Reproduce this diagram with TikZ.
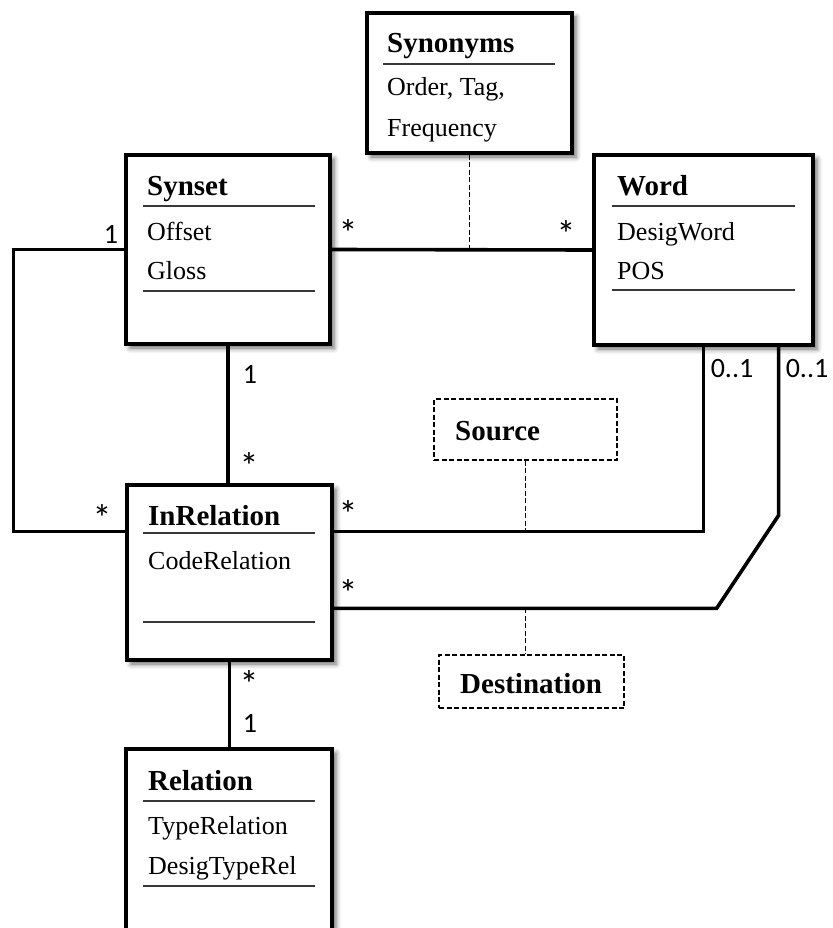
\documentclass[tikz,border=0pt]{standalone}
\usepackage{fontspec}
\setmainfont{Liberation Serif}
\newfontfamily\multfont{Carlito}
\usetikzlibrary{shadows.blur}

\begin{document}
\begin{tikzpicture}[x=1pt,y=-1pt,
  classbox/.style={draw, rectangle, line width=3.3pt, fill=white, inner sep=0pt,
    blur shadow={shadow xshift=4pt, shadow yshift=-4pt, shadow blur radius=5pt, shadow opacity=60}},
  rolebox/.style={draw, rectangle, line width=1.8pt, dash pattern=on 5pt off 2.5pt, fill=white, inner sep=0pt},
  classtitle/.style={anchor=base west, inner sep=0pt, font=\fontsize{29}{34}\selectfont\bfseries},
  attr/.style={anchor=base west, inner sep=0pt, font=\fontsize{26}{30}\selectfont},
  mult/.style={anchor=base, inner sep=0pt, font=\multfont\fontsize{28}{30}\selectfont},
  star/.style={anchor=base, inner sep=0pt, font=\multfont\fontsize{38}{40}\selectfont},
  sepline/.style={line width=1.4pt, draw=black!78},
  assoc/.style={line width=3.6pt},
  link/.style={line width=1.8pt, dash pattern=on 5pt off 2.5pt}
]
\useasboundingbox (0,0) rectangle (832,928);
\clip (0,0) rectangle (832,928);

% class boxes
\node[classbox, minimum width=205pt, minimum height=140pt] (synonyms) at (469.5,83) {};
\node[classbox, minimum width=204pt, minimum height=189pt] (synset) at (228,249.5) {};
\node[classbox, minimum width=219pt, minimum height=190pt] (word) at (703.5,250) {};
\node[classbox, minimum width=205pt, minimum height=175pt] (inrel) at (229.5,572.5) {};
\node[classbox, minimum width=206pt, minimum height=231pt] (relation) at (229,864.5) {};

% role boxes
\node[rolebox, minimum width=183pt, minimum height=61pt] (source) at (525.5,429.5) {};
\node[rolebox, minimum width=185pt, minimum height=53pt] (destination) at (531.5,681.5) {};

% Synonyms
\node[classtitle] (synonymsT) at (387,53) {Synonyms};
\draw[sepline] (383,64) -- (555,64);
\node[attr] (synonymsA) at (387,96) {Order, Tag,};
\node[attr] (synonymsB) at (387,137) {Frequency};

% Synset
\node[classtitle] (synsetT) at (147,195) {Synset};
\draw[sepline] (143,206) -- (315,206);
\node[attr] (synsetA) at (147,240) {Offset};
\node[attr] (synsetB) at (147,279) {Gloss};
\draw[sepline] (143,291) -- (315,291);

% Word
\node[classtitle] (wordT) at (617,195) {Word};
\draw[sepline] (612,206) -- (795,206);
\node[attr] (wordA) at (617,240) {DesigWord};
\node[attr] (wordB) at (617,279) {POS};
\draw[sepline] (612,290) -- (795,290);

% InRelation
\node[classtitle] (inrelT) at (148,525) {InRelation};
\draw[sepline] (143,533) -- (315,533);
\node[attr] (inrelA) at (148,569) {CodeRelation};
\draw[sepline] (143,622) -- (315,622);

% Relation
\node[classtitle] (relationT) at (148,790) {Relation};
\draw[sepline] (143,801) -- (315,801);
\node[attr] (relationA) at (148,834) {TypeRelation};
\node[attr] (relationB) at (148,874) {DesigTypeRel};
\draw[sepline] (143,886) -- (315,886);

% role names
\node[classtitle] (sourceT) at (455,440) {Source};
\node[classtitle] (destinationT) at (460,693) {Destination};

% associations
\draw[assoc] (synset.east) -- (word.west);
\draw[link] (synonyms.south) -- (synonyms.south |- synset.east);

\draw[assoc] (synset.west) -- ++(-111,0) |- ([yshift=-48pt]inrel.north west);
\draw[assoc] (synset.south) -- (synset.south |- inrel.north);
\draw[assoc] (inrel.south) -- (inrel.south |- relation.north);

\draw[assoc] ([yshift=-48pt]inrel.north east) coordinate (srcline) -| (word.south);
\draw[link] (source.south) -- (source.south |- srcline);

\draw[assoc] ([yshift=-125pt]inrel.north east) coordinate (dstline)
  -- ++(383,0) -- ++(62,-93) -- ([xshift=-36pt]word.south east);
\draw[link] (source.south |- dstline) -- (source.south |- destination.north);

% multiplicities
\node[mult] (m1) at (111,243) {1};
\node[star] (m2) at (348,246) {*};
\node[star] (m3) at (566,247) {*};
\node[mult] (m4) at (250,383) {1};
\node[star] (m5) at (249,479) {*};
\node[star] (m6) at (102,531) {*};
\node[star] (m7) at (348,527) {*};
\node[star] (m8) at (348,606) {*};
\node[mult] (m9) at (732,377) {0..1};
\node[mult] (m10) at (807,377) {0..1};
\node[star] (m11) at (249,697) {*};
\node[mult] (m12) at (250,732) {1};
\end{tikzpicture}
\end{document}
